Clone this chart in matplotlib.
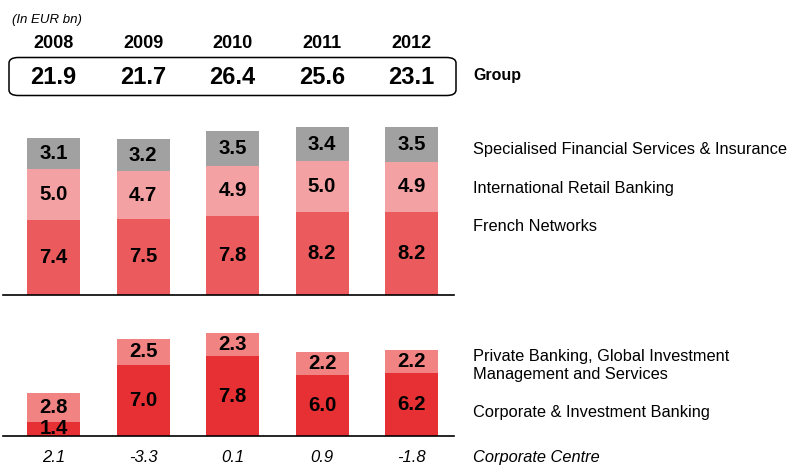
import matplotlib
matplotlib.use("Agg")
import matplotlib.pyplot as plt
from matplotlib.patches import FancyBboxPatch
import matplotlib.transforms as mtransforms
import numpy as np

years = ["2008", "2009", "2010", "2011", "2012"]
group = ["21.9", "21.7", "26.4", "25.6", "23.1"]
french_networks = [7.4, 7.5, 7.8, 8.2, 8.2]
intl_retail = [5.0, 4.7, 4.9, 5.0, 4.9]
sfs_insurance = [3.1, 3.2, 3.5, 3.4, 3.5]
cib = [1.4, 7.0, 7.8, 6.0, 6.2]
private_banking = [2.8, 2.5, 2.3, 2.2, 2.2]
corporate_centre = ["2.1", "-3.3", "0.1", "0.9", "-1.8"]

top_labels = ["Specialised Financial Services & Insurance",
              "International Retail Banking", "French Networks"]
bottom_labels = ["Private Banking, Global Investment",
                 "Management and Services",
                 "Corporate & Investment Banking"]

C_GREY = "#a1a1a1"
C_PINK = "#f4a1a3"
C_FRED = "#eb5a5c"
C_CIB = "#e63033"
C_PB = "#f28383"

plt.rcParams['font.family'] = ['Liberation Sans', 'DejaVu Sans']

W, H = 790, 465
fig = plt.figure(figsize=(W / 100, H / 100), dpi=100)

def fx(px):
    return px / W

def fy(py):
    return 1 - py / H

x = np.arange(len(years))
cx0, dx = 53.5, 89.5
left_px, right_px = 3, 454
xlim = ((left_px - cx0) / dx, (right_px - cx0) / dx)
bw = 53 / dx
LBL = 14.7

# top axes
top_base = 294.5
top_scale = 10.1
top_ymax = 17
ax1 = fig.add_axes([fx(left_px), fy(top_base), fx(right_px - left_px),
                    top_ymax * top_scale / H])
ax1.set_xlim(*xlim)
ax1.set_ylim(0, top_ymax)
b = np.zeros(5)
for vals, col in [(french_networks, C_FRED), (intl_retail, C_PINK), (sfs_insurance, C_GREY)]:
    v = np.array(vals)
    ax1.bar(x, v, bw, bottom=b, color=col, linewidth=0)
    for i in range(5):
        ax1.text(x[i], b[i] + v[i] / 2, f"{v[i]:.1f}", ha="center", va="center",
                 fontsize=LBL, fontweight="bold", color="black")
    b = b + v

# bottom axes
bot_base = 436
bot_scale = 10.2
bot_ymax = 11
ax2 = fig.add_axes([fx(left_px), fy(bot_base), fx(right_px - left_px),
                    bot_ymax * bot_scale / H])
ax2.set_xlim(*xlim)
ax2.set_ylim(0, bot_ymax)
b = np.zeros(5)
for vals, col in [(cib, C_CIB), (private_banking, C_PB)]:
    v = np.array(vals)
    ax2.bar(x, v, bw, bottom=b, color=col, linewidth=0)
    for i in range(5):
        ax2.text(x[i], b[i] + v[i] / 2, f"{v[i]:.1f}", ha="center", va="center",
                 fontsize=LBL, fontweight="bold", color="black")
    b = b + v

for ax in (ax1, ax2):
    for s in ("top", "right", "left"):
        ax.spines[s].set_visible(False)
    ax.spines["bottom"].set_linewidth(1.2)
    ax.spines["bottom"].set_color("black")
    ax.set_xticks([])
    ax.set_yticks([])
    ax.patch.set_alpha(0)

# header: years and group values, aligned with bar centres
trans_top = mtransforms.blended_transform_factory(ax1.transData, fig.transFigure)
for i in range(5):
    ax1.text(x[i], fy(48.3), years[i], transform=trans_top, ha="center", va="baseline",
             fontsize=13, fontweight="bold", clip_on=False)
    ax1.text(x[i], fy(83.5), group[i], transform=trans_top, ha="center", va="baseline",
             fontsize=17, fontweight="bold", clip_on=False)
    ax2.text(x[i], fy(461.5), corporate_centre[i], transform=trans_top, ha="center",
             va="baseline", fontsize=12, fontstyle="italic", clip_on=False)

box = FancyBboxPatch((fx(9), fy(95.5)), fx(447), (95.5 - 57.5) / H,
                     boxstyle="round,pad=0,rounding_size=0.012",
                     transform=fig.transFigure, facecolor="none",
                     edgecolor="black", linewidth=1.1)
fig.patches.append(box)

fig.text(fx(12), fy(23.5), "(In EUR bn)", fontsize=9.5, fontstyle="italic",
         ha="left", va="baseline")
fig.text(fx(473), fy(80), "Group", fontsize=11.5, fontweight="bold",
         ha="left", va="baseline")

lbl_x = fx(473)
RF = 11.75
for txt, py in zip(top_labels, [154.3, 193.3, 231]):
    fig.text(lbl_x, fy(py), txt, fontsize=RF, ha="left", va="baseline")
for txt, py in zip(bottom_labels, [360.7, 379, 416.7]):
    fig.text(lbl_x, fy(py), txt, fontsize=RF, ha="left", va="baseline")
fig.text(lbl_x, fy(461.5), "Corporate Centre", fontsize=RF, fontstyle="italic",
         ha="left", va="baseline")

fig.savefig("out.png", dpi=100)
